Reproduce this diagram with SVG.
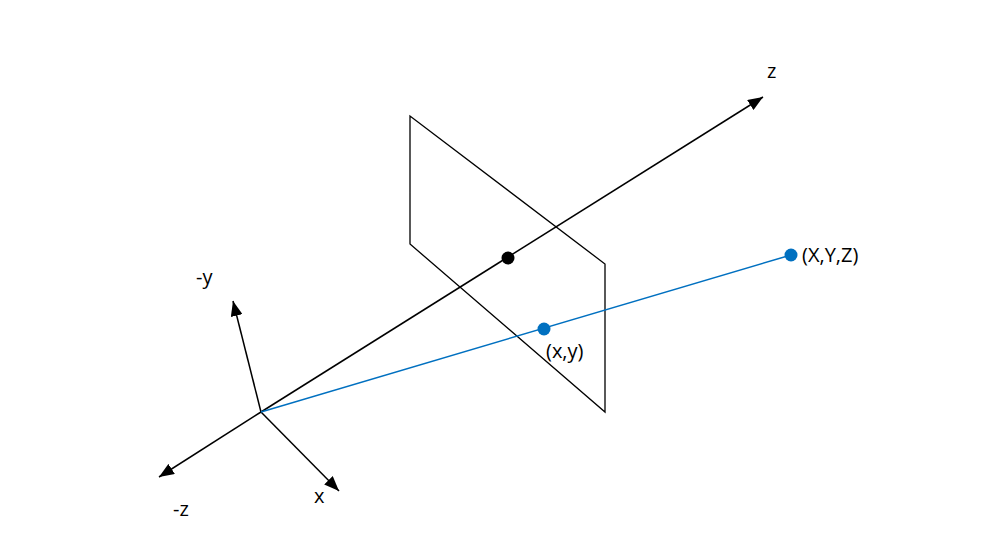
<svg xmlns="http://www.w3.org/2000/svg" width="997" height="540" viewBox="0 0 997 540">
<style>
.ax{stroke:#000;stroke-width:1.5;fill:none}
.pl{stroke:#000;stroke-width:1.3;fill:none}
.ray{stroke:#0070C0;stroke-width:1.5;fill:none}
text{font-family:"Open Sans","Liberation Sans",sans-serif;font-size:20px;fill:#000}
</style>
<defs>
<marker id="ah" markerUnits="userSpaceOnUse" markerWidth="16" markerHeight="12" refX="15" refY="6" orient="auto">
<path d="M0,0 L15,6 L0,12 Z" fill="#000"/>
</marker>
</defs>
<rect width="997" height="540" fill="#fff"/>
<g id="plane">
<path class="pl" d="M410,116 L410,244 L605,412 L605,264 Z"/>
</g>
<g id="connectors">
<line class="ax" x1="261" y1="412" x2="763" y2="97" marker-end="url(#ah)"/>
<line class="ax" x1="261" y1="412" x2="159" y2="477" marker-end="url(#ah)"/>
<line class="ax" x1="261" y1="412" x2="233" y2="301" marker-end="url(#ah)"/>
<line class="ax" x1="261" y1="412" x2="339" y2="491" marker-end="url(#ah)"/>
<line class="ray" x1="261" y1="412" x2="791" y2="255"/>
</g>
<g id="principal-point"><circle cx="508" cy="258" r="6.5" fill="#000"/></g>
<g id="image-point"><circle cx="544" cy="329" r="6.5" fill="#0070C0"/><text x="546" y="358">(x,y)</text></g>
<g id="world-point"><circle cx="791" cy="255" r="6.5" fill="#0070C0"/><text x="802" y="262">(X,Y,Z)</text></g>
<g id="labels">
<text x="767" y="78">z</text>
<text x="196" y="284">-y</text>
<text x="314" y="503">x</text>
<text x="173" y="516">-z</text>
</g>
</svg>
